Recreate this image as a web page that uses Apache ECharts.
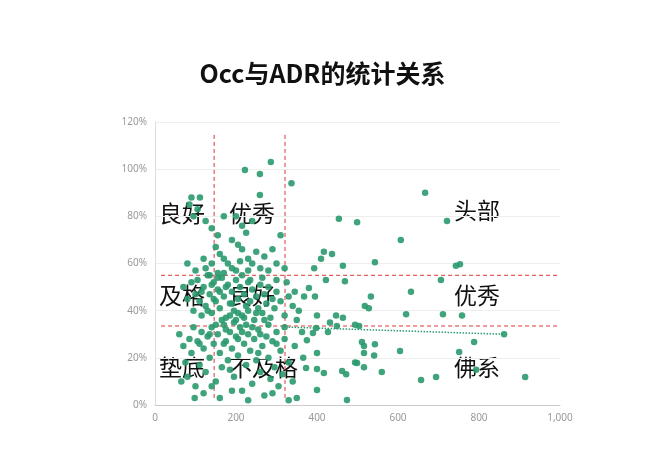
<!DOCTYPE html><html><head><meta charset="utf-8"><script src="https://cdn.jsdelivr.net/npm/echarts@6/dist/echarts.min.js"></script></head><body style="margin:0"><div id="c" style="width:645px;height:457px"></div><script>
const xTicks=[0,200,400,600,800,1000];
const yTicks=[0,20,40,60,80,100,120];
const topLeft=[[90,88],[111,88],[105,83],[95,80],[85,85],[125,78],[140,75],[155,72],[170,80],[200,80],[215,76],[225,73],[240,78],[259,89],[222,99.6],[259,98],[286,103],[337,94],[190,70],[205,68],[215,66],[230,62],[250,65],[270,63],[290,66],[310,72],[150,67],[160,64],[170,62],[180,60],[190,58],[140,60],[125,58],[120,62],[100,57],[80,60],[170,56],[200,57],[230,57],[260,58],[280,57],[300,60],[320,58],[135,55],[155,56],[240,60],[210,61]];
const midBand=[[70,50],[80,45],[90,52],[95,40],[100,47],[105,53],[110,44],[115,38],[120,50],[125,42],[130,55],[135,47],[140,39],[145,52],[150,44],[155,49],[160,41],[165,54],[170,46],[175,37],[180,51],[185,43],[190,48],[195,40],[200,53],[205,45],[210,50],[215,38],[220,47],[225,42],[230,52],[235,44],[240,49],[245,36],[250,46],[255,41],[260,51],[265,39],[270,47],[275,43],[280,50],[285,37],[290,45],[295,41],[300,48],[310,44],[320,38],[330,46],[340,42],[160,48],[175,50],[190,43],[205,39],[145,45],[130,40],[115,48],[200,36],[220,37],[230,40],[250,39],[270,36],[165,36],[185,38],[140,51],[155,54],[215,55],[235,53],[265,54],[300,53],[325,52],[345,48],[355,40],[350,36]];
const lowBand=[[60,30],[70,25],[75,18],[80,12],[85,28],[90,22],[95,33],[100,8],[105,27],[110,17],[115,31],[120,24],[125,14],[130,29],[135,20],[140,33],[145,26],[150,10],[155,30],[160,22],[165,16],[170,34],[175,27],[180,19],[185,31],[190,24],[195,12],[200,29],[205,21],[210,33],[215,6],[220,26],[225,17],[230,30],[235,23],[240,9],[245,28],[250,19],[255,32],[260,14],[265,25],[270,4],[275,29],[280,20],[285,11],[290,27],[295,16],[300,31],[305,8],[310,23],[315,13],[320,28],[330,18],[340,10],[345,25],[350,3],[120,5],[160,3],[190,6],[230,2],[290,5],[330,2],[205,28],[175,32],[150,34],[135,30],[110,26],[225,34],[255,22],[185,15],[140,8],[98,3],[65,10],[170,26],[195,35],[215,31],[240,33],[260,30],[280,34],[300,26],[320,33]];
const rightSide=[[667,90],[454,79],[499,77.5],[721,78],[607,70],[417,65],[410,62],[437,64],[393,58],[464,59],[543,60.5],[743,59],[753,59.7],[422,53],[469,52.5],[706,53],[380,49.6],[368,46],[395,46],[632,48],[533,46],[518,42],[528,41],[400,38],[447,38],[464,37],[620,38.5],[711,38.5],[758,38],[432,35],[449,33.5],[494,34],[504,33.5],[398,32.6],[427,31],[390,30.5],[363,31],[862,30],[375,27.5],[511,26.7],[516,25],[543,25.8],[788,26.7],[605,22.9],[400,22],[516,22],[541,21],[751,22.5],[366,20],[494,18],[499,17.8],[516,16],[373,15.7],[400,15.3],[417,13.6],[462,14.4],[472,13],[560,14],[793,15],[657,10.6],[694,11.9],[914,11.9],[400,6.4],[474,2.1]];
const trend=[[330,33],[862,30]];
const vLines=[146,321], hLines=[55,33.5];
const labels=[['良好',183,216],['优秀',253,216],['头部',478,213],['及格',183,298],['良好',253,298],['优秀',478,298],['垫底',183,370],['不及格',253,370],['佛系',478,370]];
const all=topLeft.concat(midBand,lowBand,rightSide);
const ch=echarts.init(document.getElementById('c'));
const axTxt={color:'#999',fontSize:10,fontFamily:'Noto Sans'};
const red={color:'#d9383a',type:[4,3],width:1};
const guide=d=>({type:'line',data:d,symbol:'none',silent:true,z:1,lineStyle:red,itemStyle:{color:'#d9383a'}});
ch.setOption({
 title:{text:'Occ与ADR的统计关系',left:'center',top:56,textStyle:{fontSize:25,fontWeight:'bold',color:'#111',fontFamily:'Noto Sans CJK SC'}},
 grid:{left:155,right:85,top:122,bottom:52},
 xAxis:{type:'value',min:0,max:1000,interval:200,axisLabel:{...axTxt,formatter:v=>v===1000?'1,000':String(v)},axisLine:{lineStyle:{color:'#ccc'}},axisTick:{show:false},splitLine:{show:false}},
 yAxis:{type:'value',min:0,max:120,interval:20,axisLabel:{...axTxt,formatter:'{value}%'},axisLine:{show:true,lineStyle:{color:'#ddd'}},axisTick:{show:false},splitLine:{lineStyle:{color:'#eee'}}},
 series:[{type:'scatter',z:2,data:all,symbolSize:6.5,itemStyle:{color:'#2a9a6e',opacity:0.9}},
  {type:'line',data:trend,symbol:'none',lineStyle:{color:'#2a9a6e',type:'dotted',width:1.5}}]
  .concat(vLines.map(v=>guide([[v,3],[v,115]])), hLines.map(v=>guide([[15,v],[1000,v]]))),
 graphic:labels.map(l=>({type:'text',left:l[1]-24,top:l[2]-14,style:{text:l[0],fontSize:23,fill:'#111',fontFamily:'Noto Sans CJK SC'}}))
});
</script></body></html>
